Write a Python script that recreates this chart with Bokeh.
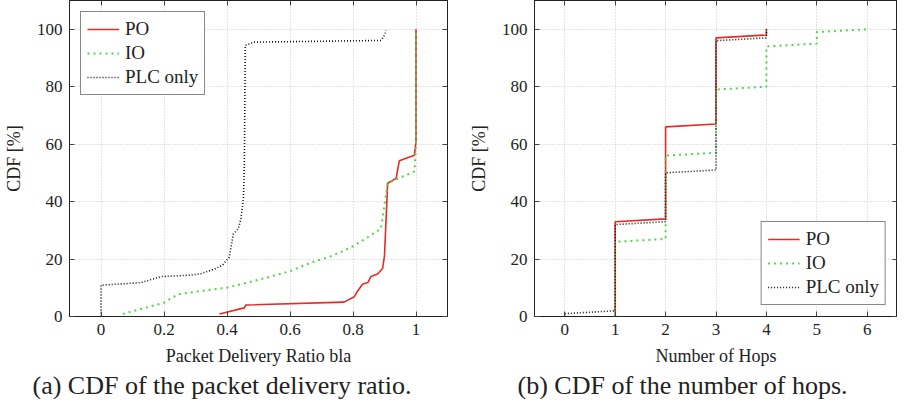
from bokeh.plotting import figure
from bokeh.models import Range1d, LinearAxis, FixedTicker, Title, CustomJSTickFormatter
from bokeh.layouts import row
from bokeh.embed import file_html
from bokeh.resources import INLINE

# ---------------- data ----------------
series_names = ["PO", "IO", "PLC only"]

# (a) CDF of the packet delivery ratio
pdr_po_x = [0.376, 0.455, 0.46, 0.772, 0.804, 0.815, 0.83, 0.847, 0.857, 0.878, 0.894, 0.9, 0.91, 0.937, 0.94, 0.947, 0.995, 1.0, 1.0]
pdr_po_y = [0.9, 3.0, 4.0, 5.0, 6.9, 8.9, 11.2, 11.8, 13.9, 14.8, 16.7, 21.2, 46.4, 48.1, 50.0, 54.2, 56.1, 61.0, 100.0]
pdr_io_x = [0.069, 0.2, 0.243, 0.317, 0.402, 0.466, 0.529, 0.603, 0.667, 0.72, 0.762, 0.804, 0.847, 0.889, 0.91, 0.995, 1.0, 1.0]
pdr_io_y = [0.9, 4.8, 7.7, 8.9, 10.1, 11.8, 13.6, 15.9, 18.8, 20.6, 22.4, 24.7, 27.6, 30.6, 46.4, 50.5, 59.8, 100.0]
pdr_plc_x = [0.0, 0.0, 0.127, 0.19, 0.286, 0.317, 0.36, 0.386, 0.407, 0.42, 0.436, 0.444, 0.452, 0.455, 0.458, 0.487, 0.889, 0.9, 0.905]
pdr_plc_y = [0.0, 10.9, 11.8, 13.9, 14.4, 14.9, 16.5, 17.9, 20.6, 28.7, 30.6, 34.0, 41.0, 51.6, 94.4, 95.5, 96.1, 97.9, 99.6]

# (b) CDF of the number of hops
hops_po_x = [1, 1, 2, 2, 3, 3, 4, 4]
hops_po_y = [0, 33, 34, 66, 67, 97, 98, 100]
hops_io_x = [1, 1, 2, 2, 3, 3, 4, 4, 5, 5, 6]
hops_io_y = [0, 26, 27, 56, 57, 79, 80, 94, 95, 99, 100]
hops_plc_x = [0, 0, 1, 1, 2, 2, 3, 3, 4, 4]
hops_plc_y = [0, 1, 2, 32, 33, 50, 51, 96, 97, 100]

pdr_ticks = [0, 0.2, 0.4, 0.6, 0.8, 1]
hops_ticks = [0, 1, 2, 3, 4, 5, 6]
cdf_ticks = [0, 20, 40, 60, 80, 100]

# ---------------- styles ----------------
FONT = "Liberation Serif"
TXT = "#222222"
styles = [
    dict(line_color="#e62a24", line_width=1.6),
    dict(line_color="#4fd64a", line_width=2.0, line_dash="2 4"),
    dict(line_color="#111111", line_width=1.6, line_dash="1 2"),
]


def blank_axis(ticks):
    return LinearAxis(ticker=FixedTicker(ticks=ticks),
                      formatter=CustomJSTickFormatter(code="return ''"),
                      major_tick_in=5, major_tick_out=0, minor_tick_line_color=None,
                      axis_line_color="#222222", major_tick_line_color="#444444",
                      major_label_text_font_size="0px", major_label_standoff=0,
                      axis_label_standoff=0)


def make_fig(width, border_left, border_right, xr, xticks, xlabel, caption, cap_offset,
             xs, ys, legend_loc):
    p = figure(width=width, height=399, output_backend="svg", toolbar_location=None,
               x_range=Range1d(*xr), y_range=Range1d(0, 110),
               min_border_left=border_left, min_border_right=border_right,
               min_border_top=0, min_border_bottom=0)
    p.outline_line_color = "#222222"
    p.outline_line_width = 1
    p.background_fill_color = "white"
    p.border_fill_color = "white"

    p.xaxis.ticker = FixedTicker(ticks=xticks)
    p.yaxis.ticker = FixedTicker(ticks=cdf_ticks)
    p.xaxis.axis_label = xlabel
    p.yaxis.axis_label = "CDF [%]"
    for ax in (p.xaxis[0], p.yaxis[0]):
        ax.major_tick_in = 5
        ax.major_tick_out = 0
        ax.minor_tick_line_color = None
        ax.axis_line_color = "#222222"
        ax.major_tick_line_color = "#444444"
        ax.major_label_text_font = FONT
        ax.major_label_text_font_size = "17px"
        ax.major_label_text_color = TXT
        ax.axis_label_text_font = FONT
        ax.axis_label_text_font_size = "18px"
        ax.axis_label_text_font_style = "normal"
        ax.axis_label_text_color = TXT
    p.yaxis.major_label_standoff = 7
    p.yaxis.axis_label_standoff = 10
    p.xaxis.major_label_standoff = 7
    p.xaxis.axis_label_standoff = 8

    # inward ticks on the top and right frame edges
    p.add_layout(blank_axis(xticks), "above")
    p.add_layout(blank_axis(cdf_ticks), "right")

    p.grid.grid_line_color = "#c8c8c8"
    p.grid.grid_line_dash = "1 2"
    p.grid.grid_line_width = 1

    for name, x, y, st in zip(series_names, xs, ys, styles):
        p.line(x, y, legend_label=name, **st)

    lg = p.legend[0]
    lg.location = legend_loc
    lg.border_line_color = "#111111"
    lg.border_line_width = 1
    lg.background_fill_alpha = 1.0
    lg.label_text_font = FONT
    lg.label_text_font_size = "19px"
    lg.label_text_color = TXT
    lg.glyph_width = 32
    lg.glyph_height = 20
    lg.label_height = 20
    lg.label_standoff = 6
    lg.spacing = 2
    lg.padding = 6
    lg.margin = 11

    cap = Title(text=caption, align="left", offset=cap_offset, text_font=FONT,
                text_font_size="26px", text_font_style="normal", text_color=TXT,
                standoff=0)
    p.add_layout(cap, "below")
    return p


p1 = make_fig(465, 61, 18, (-0.1, 1.1), pdr_ticks, "Packet Delivery Ratio bla",
              "(a) CDF of the packet delivery ratio.", -37,
              [pdr_po_x, pdr_io_x, pdr_plc_x], [pdr_po_y, pdr_io_y, pdr_plc_y], "top_left")
p2 = make_fig(432, 53, 0, (-0.6, 6.6), hops_ticks, "Number of Hops",
              "(b) CDF of the number of hops.", -17,
              [hops_po_x, hops_io_x, hops_plc_x], [hops_po_y, hops_io_y, hops_plc_y], "bottom_right")

layout = row(p1, p2)
open("out.html", "w").write(file_html(layout, INLINE))
